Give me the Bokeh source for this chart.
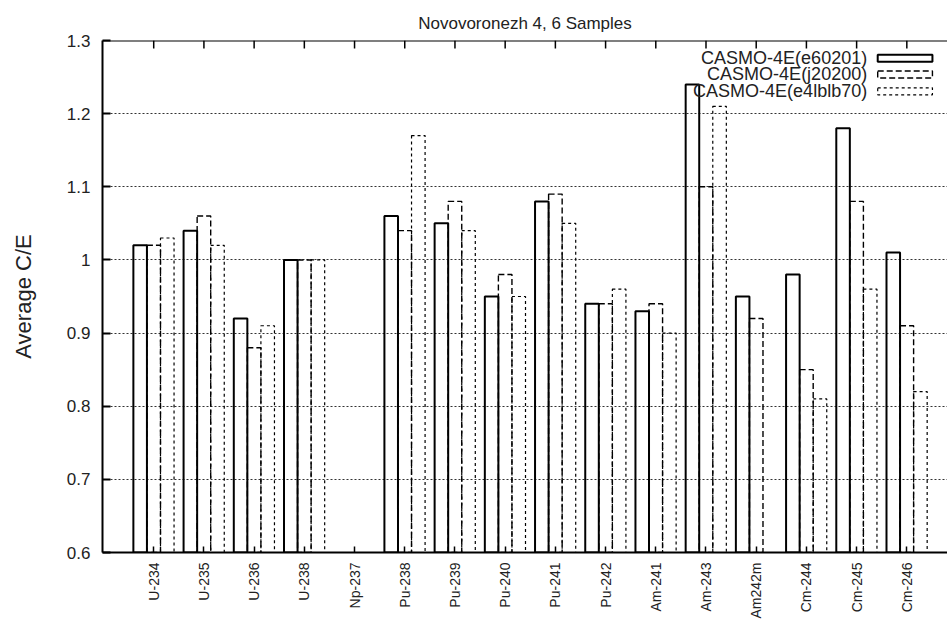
import math
import numpy as np
from bokeh.plotting import figure
from bokeh.models import (FixedTicker, Range1d, CustomJSTickFormatter,
                          Label, BoxAnnotation, ColumnDataSource, Span)
from bokeh.embed import file_html
from bokeh.resources import INLINE

# ---- data -------------------------------------------------------------
isotopes = ["U-234", "U-235", "U-236", "U-238", "Np-237", "Pu-238", "Pu-239", "Pu-240",
            "Pu-241", "Pu-242", "Am-241", "Am-243", "Am242m", "Cm-244", "Cm-245", "Cm-246"]
nan = float("nan")
e60201 = [1.02, 1.04, 0.92, 1.00, nan, 1.06, 1.05, 0.95, 1.08, 0.94, 0.93, 1.24, 0.95, 0.98, 1.18, 1.01]
j20200 = [1.02, 1.06, 0.88, 1.00, nan, 1.04, 1.08, 0.98, 1.09, 0.94, 0.94, 1.10, 0.92, 0.85, 1.08, 0.91]
e4lblb70 = [1.03, 1.02, 0.91, 1.00, nan, 1.17, 1.04, 0.95, 1.05, 0.96, 0.90, 1.21, nan, 0.81, 0.96, 0.82]
series_names = ["CASMO-4E(e60201)", "CASMO-4E(j20200)", "CASMO-4E(e4lblb70)"]
y_ticks = [0.6, 0.7, 0.8, 0.9, 1.0, 1.1, 1.2, 1.3]
title_text = "Novovoronezh 4, 6 Samples"
y_label = "Average C/E"

# ---- styling ----------------------------------------------------------
FONT = "Liberation Sans"
TXT = "#222222"
BAR_W = 0.27
Y0, Y1 = 0.6, 1.3
styles = [
    dict(line_dash="solid", line_width=2.0),
    dict(line_dash="6 3", line_width=1.4),
    dict(line_dash="3 3", line_width=1.2),
]

p = figure(width=947, height=621, output_backend="svg", toolbar_location=None,
           x_range=Range1d(-0.02, 16.81), y_range=Range1d(Y0, Y1),
           min_border_left=102, min_border_right=0, min_border_top=40, min_border_bottom=68,
           background_fill_color="white", border_fill_color="white")
p.outline_line_color = None

p.title.text = title_text
p.title.align = "center"
p.title.offset = 4
p.title.standoff = 16
p.title.text_font = FONT
p.title.text_font_size = "17px"
p.title.text_font_style = "normal"
p.title.text_color = TXT

# bars
pos = np.arange(1, len(isotopes) + 1, dtype=float)
all_series = [e60201, j20200, e4lblb70]
offsets = [-BAR_W, 0.0, BAR_W]
for vals, off, st in zip(all_series, offsets, styles):
    src = ColumnDataSource(dict(x=pos + off, top=np.array(vals, dtype=float)))
    p.vbar(x="x", top="top", bottom=Y0, width=BAR_W, source=src,
           fill_alpha=0, line_color="black", **st)

# grid
p.xgrid.visible = False
p.ygrid.ticker = FixedTicker(ticks=y_ticks[1:-1])
p.ygrid.grid_line_color = "#333333"
p.ygrid.grid_line_dash = "2 2"
p.ygrid.grid_line_width = 1

# y axis
ya = p.yaxis[0]
ya.ticker = FixedTicker(ticks=y_ticks)
ya.formatter = CustomJSTickFormatter(code="return String(Math.round(tick*10)/10);")
ya.major_tick_in = 8
ya.major_tick_out = 0
ya.minor_tick_line_color = None
ya.axis_line_width = 2
ya.major_tick_line_width = 2
ya.major_label_text_font = FONT
ya.major_label_text_font_size = "17px"
ya.major_label_text_color = TXT
ya.major_label_standoff = 12
ya.axis_label = y_label
ya.axis_label_text_font = FONT
ya.axis_label_text_font_size = "22px"
ya.axis_label_text_font_style = "normal"
ya.axis_label_text_color = TXT
ya.axis_label_standoff = 28

# x axis (below)
xa = p.xaxis[0]
xa.ticker = FixedTicker(ticks=list(pos))
xa.formatter = CustomJSTickFormatter(args=dict(labels=isotopes),
    code="var i = Math.round(tick) - 1; return (i >= 0 && i < labels.length) ? labels[i] : '';")
xa.major_label_orientation = math.pi / 2
xa.major_tick_in = 6
xa.major_tick_out = 0
xa.minor_tick_line_color = None
xa.axis_line_width = 2
xa.major_tick_line_width = 1.5
xa.major_label_text_font = FONT
xa.major_label_text_font_size = "14px"
xa.major_label_text_color = TXT
xa.major_label_standoff = 10

# top border with mirrored category ticks
p.add_layout(Span(location=Y1, dimension="width", line_color="black", line_width=2))
tick_len = 8.0 / 733.0
p.segment(x0=pos, y0=np.full_like(pos, Y1), x1=pos, y1=np.full_like(pos, Y1 - tick_len),
          line_color="black", line_width=1.5)

# legend (gnuplot style: text left, sample right)
leg_text_x = 15.21
leg_box = (15.42, 16.51)
leg_rows = [1.2757, 1.2536, 1.2305]
for name, yv, st in zip(series_names, leg_rows, styles):
    p.add_layout(Label(x=leg_text_x, y=yv, text=name, text_align="right",
                       text_baseline="middle", text_font=FONT, text_font_size="18px",
                       text_color=TXT))
    p.add_layout(BoxAnnotation(left=leg_box[0], right=leg_box[1],
                               bottom=yv - 0.0048, top=yv + 0.0048,
                               fill_alpha=0, line_color="black", line_alpha=1,
                               **st))

open("out.html", "w").write(file_html(p, INLINE))
